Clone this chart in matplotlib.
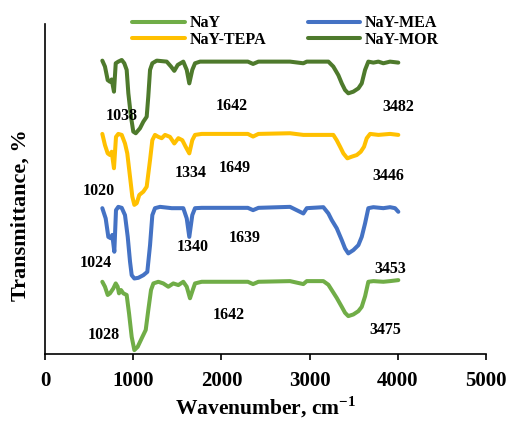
import matplotlib
matplotlib.use("Agg")
import matplotlib.pyplot as plt

plt.rcParams['font.family'] = ['Liberation Serif', 'DejaVu Serif']
plt.rcParams['font.weight'] = 'bold'
plt.rcParams['mathtext.fontset'] = 'custom'
plt.rcParams['mathtext.rm'] = 'Liberation Serif:bold'
plt.rcParams['mathtext.bf'] = 'Liberation Serif:bold'

# FTIR spectra (transmittance, arbitrary stacked units)
nay_wn = [650, 680, 711, 737, 775, 802, 824, 839, 862, 888, 926, 953, 983, 1013, 1051, 1097,
          1142, 1171, 1202, 1229, 1285, 1341, 1398, 1455, 1512, 1568, 1607, 1644, 1675, 1701,
          1777, 2300, 2359, 2420, 2778, 2929, 2968, 3156, 3213, 3251, 3308, 3365, 3402, 3439,
          3496, 3553, 3591, 3629, 3666, 3723, 3836, 3912, 4006]
nay_t = [21.9, 20.4, 17.9, 18.4, 19.9, 21.4, 20.4, 18.4, 19.4, 18.4, 17.9, 12.3, 5.2, 1.2, 2.2, 4.8,
         7.3, 13.3, 19.4, 21.4, 21.9, 21.4, 20.4, 21.4, 20.9, 21.9, 20.4, 16.9, 19.4, 21.4,
         21.9, 21.9, 21.2, 21.9, 22.1, 21.2, 22.1, 22.1, 21.0, 19.4, 17.0, 14.3, 12.5, 11.5,
         12.0, 13.0, 14.3, 17.5, 21.9, 22.1, 21.9, 22.1, 22.4]

mea_wn = [650, 688, 718, 745, 763, 786, 805, 831, 870, 907, 938, 964, 983, 1013, 1058, 1115,
          1160, 1191, 1217, 1247, 1304, 1437, 1494, 1568, 1607, 1636, 1670, 1701, 1777, 2300,
          2359, 2420, 2778, 2929, 2968, 3156, 3213, 3251, 3308, 3365, 3402, 3439, 3496, 3553,
          3591, 3629, 3666, 3723, 3836, 3912, 3969, 4006]
mea_t = [44.2, 41.1, 35.5, 35.1, 36.1, 31.0, 43.6, 44.6, 44.3, 42.1, 35.5, 28.0, 23.9, 22.9, 23.1, 23.9,
         24.9, 33.0, 42.1, 44.2, 44.6, 44.2, 44.2, 44.2, 41.1, 35.5, 42.1, 44.2, 44.3, 44.3,
         43.6, 44.3, 44.6, 42.6, 44.2, 44.5, 42.6, 40.6, 38.1, 34.5, 32.0, 30.5, 31.5, 33.0,
         35.5, 39.6, 44.2, 44.5, 44.2, 44.5, 44.2, 43.1]

tepa_wn = [650, 680, 711, 737, 756, 782, 805, 831, 870, 907, 933, 964, 990, 1013, 1040, 1069,
           1115, 1153, 1191, 1217, 1247, 1285, 1323, 1361, 1417, 1466, 1512, 1557, 1595, 1636,
           1670, 1701, 1777, 2300, 2359, 2420, 2778, 2929, 3269, 3307, 3346, 3383, 3428, 3478,
           3535, 3580, 3617, 3648, 3686, 3780, 3912, 4006]
tepa_t = [66.7, 63.3, 60.8, 60.3, 61.3, 56.3, 65.8, 66.7, 66.4, 63.8, 60.8, 53.7, 47.7, 45.2, 45.7, 48.2,
          49.2, 50.7, 58.8, 64.8, 66.4, 65.8, 65.4, 66.4, 65.8, 63.8, 65.4, 64.8, 62.8, 60.8,
          64.8, 66.4, 66.7, 66.7, 65.9, 66.7, 66.9, 66.4, 66.4, 64.8, 62.8, 60.8, 59.3, 59.8,
          60.3, 61.3, 62.8, 65.4, 66.7, 66.4, 66.7, 66.4]

mor_wn = [650, 680, 711, 737, 756, 782, 802, 831, 870, 899, 926, 945, 975, 1001, 1029, 1077,
          1115, 1153, 1171, 1191, 1217, 1267, 1380, 1429, 1466, 1505, 1568, 1607, 1636, 1670,
          1701, 1758, 2300, 2359, 2420, 2778, 2929, 2968, 3213, 3269, 3326, 3365, 3402, 3439,
          3496, 3553, 3591, 3629, 3666, 3723, 3780, 3836, 3912, 4006]
mor_t = [88.9, 87.1, 83.0, 82.5, 83.2, 79.5, 88.1, 88.6, 89.1, 88.1, 86.1, 79.0, 71.9, 67.4, 66.9, 68.4,
         70.4, 71.9, 78.0, 86.1, 88.1, 88.9, 88.6, 87.1, 85.8, 87.6, 88.6, 86.1, 82.0, 86.1,
         88.1, 88.6, 88.6, 87.9, 88.6, 88.6, 88.1, 88.6, 88.6, 87.1, 84.5, 82.0, 80.0, 79.0,
         79.5, 80.5, 82.0, 86.1, 88.6, 88.3, 88.6, 88.1, 88.6, 88.3]

# peak labels: text, wavenumber, transmittance
peak_labels = ["1038", "1642", "3482", "1020", "1334", "1649", "3446",
               "1024", "1340", "1639", "3453", "1028", "1642", "3475"]
peak_x = [870, 2117, 4003, 605, 1656, 2155, 3890, 578, 1678, 2268, 3912, 669, 2087, 3856]
peak_y = [72.1, 75.2, 74.9, 49.4, 54.9, 56.4, 53.9, 27.6, 32.5, 35.2, 25.8, 5.8, 11.8, 7.3]

fig = plt.figure(figsize=(5.09, 4.21), dpi=100)
ax = fig.add_axes([0.0884, 0.159, 0.8664, 0.784])

lw = 2.9
style = dict(lw=lw, solid_joinstyle='round', solid_capstyle='round')
ax.plot(nay_wn, nay_t, color='#70AD47', label='NaY', **style)
ax.plot(mea_wn, mea_t, color='#4472C4', label='NaY-MEA', **style)
ax.plot(tepa_wn, tepa_t, color='#FFC000', label='NaY-TEPA', **style)
ax.plot(mor_wn, mor_t, color='#4E7A2C', label='NaY-MOR', **style)

for s, x, y in zip(peak_labels, peak_x, peak_y):
    ax.text(x, y, s, ha='center', va='center', fontsize=11.5, fontweight='bold')

ax.set_xlim(0, 5000)
ax.set_ylim(0, 100)
ax.set_xticks([0, 1000, 2000, 3000, 4000, 5000])
ax.set_yticks([])
ax.spines['top'].set_visible(False)
ax.spines['right'].set_visible(False)
ax.spines['left'].set_linewidth(1.2)
ax.spines['bottom'].set_linewidth(1.2)
ax.tick_params(axis='x', direction='out', length=4, width=1.2, labelsize=15, pad=8)
for t in ax.get_xticklabels():
    t.set_fontweight('bold')

ax.set_xlabel('Wavenumber, cm$^{-1}$', fontsize=15.5, fontweight='bold', labelpad=3)
fig.text(0.04, 0.49, 'Transmittance, %', rotation=90, ha='center', va='center',
         fontsize=16, fontweight='bold')

handles, labels = ax.get_legend_handles_labels()
order = [0, 2, 1, 3]
fig.legend([handles[i] for i in order], [labels[i] for i in order], ncol=2, frameon=False,
           loc='center', bbox_to_anchor=(0.561, 0.925), prop={'weight': 'bold', 'size': 11.5},
           handlelength=3.3, handletextpad=0.3, columnspacing=2.6, labelspacing=0.05)

fig.savefig('out.png', dpi=100)
